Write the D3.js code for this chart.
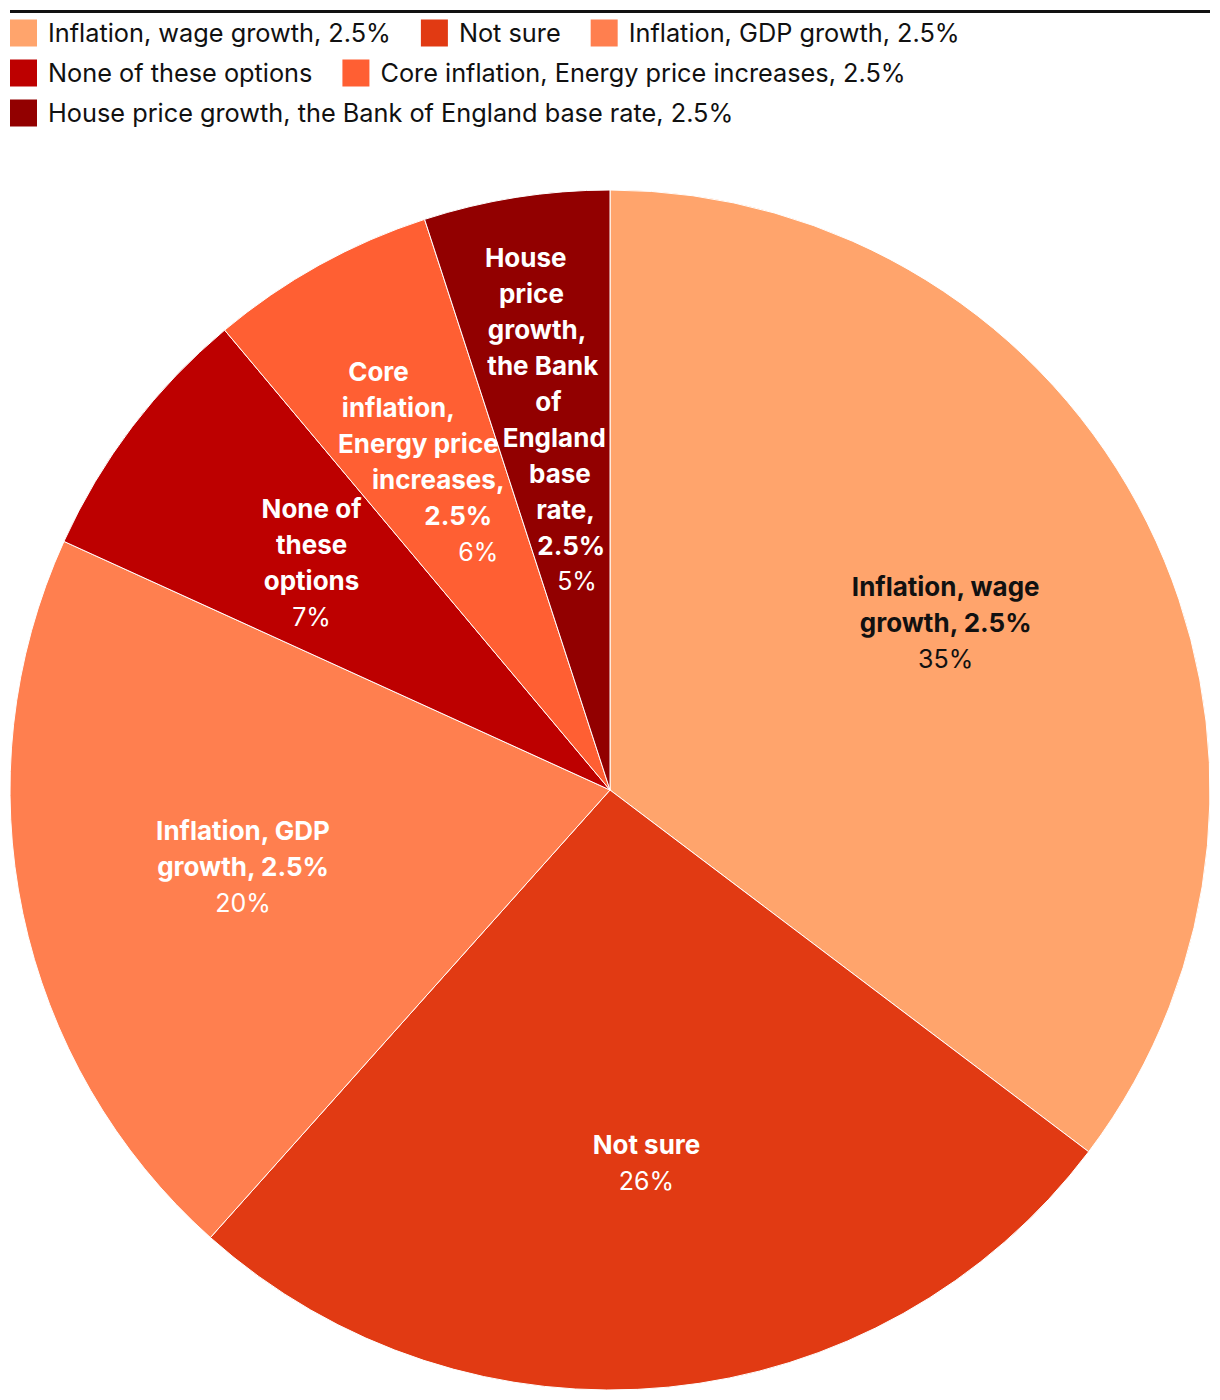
<!DOCTYPE html>
<html>
<head>
<meta charset="utf-8">
<script src="https://cdn.jsdelivr.net/npm/d3@7"></script>
<style>
  body { margin: 0; background: #fff; }
  svg text { font-family: "Inter", "Open Sans", sans-serif; }
</style>
</head>
<body>
<div id="chart"></div>
<script>
let svgWidth = 1220;
let svgHeight = 1400;

// data
let categories = [
  "Inflation, wage growth, 2.5%",
  "Not sure",
  "Inflation, GDP growth, 2.5%",
  "None of these options",
  "Core inflation, Energy price increases, 2.5%",
  "House price growth, the Bank of England base rate, 2.5%"
];
let shares = [35.3, 26.3, 20.2, 7.1, 6.1, 5.0];
let labelLines = [
  ["Inflation, wage", "growth, 2.5%"],
  ["Not sure"],
  ["Inflation, GDP", "growth, 2.5%"],
  ["None of", "these", "options"],
  ["Core", "inflation,", "Energy price", "increases,", "2.5%"],
  ["House", "price", "growth,", "the Bank", "of", "England", "base", "rate,", "2.5%"]
];
let colors = ["#FFA46C", "#E13A13", "#FF7F4F", "#BD0000", "#FF5F33", "#920000"];
let labelColors = ["#111", "#fff", "#fff", "#fff", "#fff", "#fff"];

let svg = d3.select("#chart")
  .append("svg")
  .attr("width", svgWidth)
  .attr("height", svgHeight);

// top rule
svg.append("line")
  .attr("x1", 10).attr("x2", 1210)
  .attr("y1", 11.5).attr("y2", 11.5)
  .attr("stroke", "#111")
  .attr("stroke-width", 3);

// legend, flowing left to right
let legend = svg.append("g");
let lx = 10, ly = 33;
categories.forEach(function(c, i) {
  let item = legend.append("g");
  item.append("rect")
    .attr("width", 27).attr("height", 27)
    .attr("y", -13.5)
    .attr("fill", colors[i]);
  let t = item.append("text")
    .attr("x", 38)
    .attr("dy", "0.35em")
    .attr("font-size", 25.3)
    .attr("fill", "#111")
    .text(c);
  let w = 38 + t.node().getComputedTextLength();
  if (lx + w > 1210) { lx = 10; ly += 40; }
  item.attr("transform", `translate(${lx}, ${ly})`);
  lx += w + 30;
});

// pie
let radius = 600;
let cx = 610, cy = 790;
let labelR = 375;

let pie = d3.pie().sort(null).value(d => d);
let arcs = pie(shares);
let arc = d3.arc().innerRadius(0).outerRadius(radius);
let labelArc = d3.arc().innerRadius(labelR).outerRadius(labelR);

let chartGroup = svg.append("g")
  .attr("transform", `translate(${cx}, ${cy})`);

chartGroup.selectAll("path")
  .data(arcs)
  .enter()
  .append("path")
  .attr("d", arc)
  .attr("fill", (d, i) => colors[i])
  .attr("stroke", "#fff")
  .attr("stroke-width", 1);

let lineH = 36;
let labels = chartGroup.selectAll(".lbl")
  .data(arcs)
  .enter()
  .append("text")
  .attr("class", "lbl")
  .attr("text-anchor", "middle")
  .attr("fill", (d, i) => labelColors[i]);

labels.each(function(d, i) {
  let [px, py] = labelArc.centroid(d);
  let mid = (d.startAngle + d.endAngle) / 2;
  // thin slices: stack lines along the radial line through the middle
  let slant = (d.endAngle - d.startAngle) < 0.42 ? Math.tan(mid) : 0;
  let lines = labelLines[i].concat([Math.round(shares[i]) + "%"]);
  let top = py - (lines.length - 1) * lineH / 2;
  let t = d3.select(this);
  lines.forEach(function(l, k) {
    let y = top + k * lineH;
    let last = k === lines.length - 1;
    t.append("tspan")
      .attr("x", px + (y - py) * -slant)
      .attr("y", y)
      .attr("dy", "0.35em")
      .attr("font-size", last ? 25 : 26)
      .attr("font-weight", last ? 400 : 700)
      .text(l);
  });
});
</script>
</body>
</html>
